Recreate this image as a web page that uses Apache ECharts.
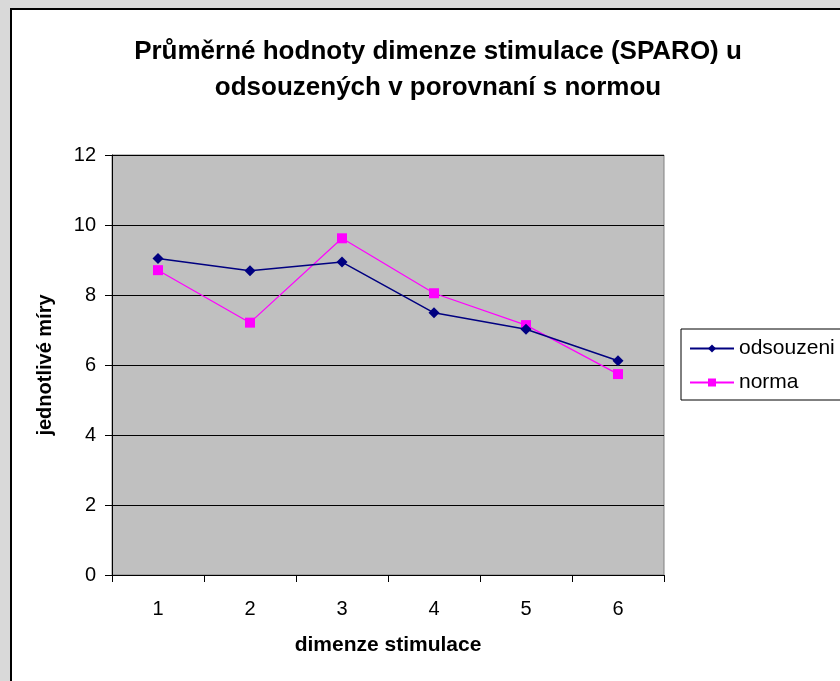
<!DOCTYPE html>
<html>
<head>
<meta charset="utf-8">
<script src="https://cdn.jsdelivr.net/npm/echarts@6/dist/echarts.min.js"></script>
<style>
    body { margin: 0; background: #d9d9d9; }
    #chart { width: 840px; height: 681px; }
</style>
</head>
<body>
<div id="chart"></div>
<script>
    // data
    var categories = ['1', '2', '3', '4', '5', '6'];
    var odsouzeni = [9.04, 8.69, 8.94, 7.49, 7.02, 6.12];
    var norma = [8.71, 7.21, 9.62, 8.05, 7.14, 5.74];
    var seriesNames = ['odsouzeni', 'norma'];

    var chart = echarts.init(document.getElementById('chart'));
    chart.setOption({
        backgroundColor: '#d9d9d9',
        textStyle: { fontFamily: 'Liberation Sans, Arial, sans-serif' },
        graphic: [{
            type: 'rect',
            z: -10,
            shape: { x: 11, y: 9, width: 900, height: 800 },
            style: { fill: '#ffffff', stroke: '#000000', lineWidth: 2 }
        }],
        title: {
            text: 'Průměrné hodnoty dimenze stimulace (SPARO) u\nodsouzených v porovnaní s normou',
            left: 433,
            top: 29,
            textAlign: 'center',
            textStyle: { fontSize: 26, fontWeight: 'bold', color: '#000', lineHeight: 36 }
        },
        legend: {
            left: 681,
            top: 329,
            orient: 'vertical',
            data: seriesNames,
            backgroundColor: '#fff',
            borderColor: '#000',
            borderWidth: 1,
            borderRadius: 0,
            padding: [9, 40, 7, 8],
            itemGap: 13,
            itemWidth: 44,
            itemHeight: 10,
            textStyle: { fontSize: 21, color: '#000', padding: [0, 0, 0, 0] }
        },
        grid: { left: 112, top: 155, width: 552, height: 420, show: true, backgroundColor: '#c0c0c0', borderColor: '#808080', borderWidth: 1 },
        xAxis: {
            type: 'category',
            data: categories,
            boundaryGap: true,
            name: 'dimenze stimulace',
            nameLocation: 'middle',
            nameGap: 60,
            nameTextStyle: { fontSize: 21, fontWeight: 'bold', color: '#000' },
            axisLine: { lineStyle: { color: '#000', width: 1 } },
            axisTick: { show: true, length: 7, inside: false, lineStyle: { color: '#000' } },
            axisLabel: { fontSize: 20, color: '#000', margin: 24 },
            splitLine: { show: false }
        },
        yAxis: {
            type: 'value',
            min: 0,
            max: 12,
            interval: 2,
            name: 'jednotlivé míry',
            nameLocation: 'middle',
            nameGap: 57,
            nameTextStyle: { fontSize: 20, fontWeight: 'bold', color: '#000' },
            axisLine: { show: true, lineStyle: { color: '#000', width: 1 } },
            axisTick: { show: true, length: 7, lineStyle: { color: '#000' } },
            axisLabel: { fontSize: 20, color: '#000', margin: 16 },
            splitLine: { show: true, lineStyle: { color: '#000', width: 1 } }
        },
        series: [
            {
                name: seriesNames[0],
                type: 'line',
                data: odsouzeni,
                symbol: 'diamond',
                symbolSize: 11,
                color: '#000080',
                lineStyle: { color: '#000080', width: 1.5 },
                itemStyle: { color: '#000080' },
                z: 3
            },
            {
                name: seriesNames[1],
                type: 'line',
                data: norma,
                symbol: 'rect',
                symbolSize: 10,
                color: '#ff00ff',
                lineStyle: { color: '#ff00ff', width: 1.2 },
                itemStyle: { color: '#ff00ff' },
                z: 2
            }
        ],
        animation: false
    });
</script>
</body>
</html>
